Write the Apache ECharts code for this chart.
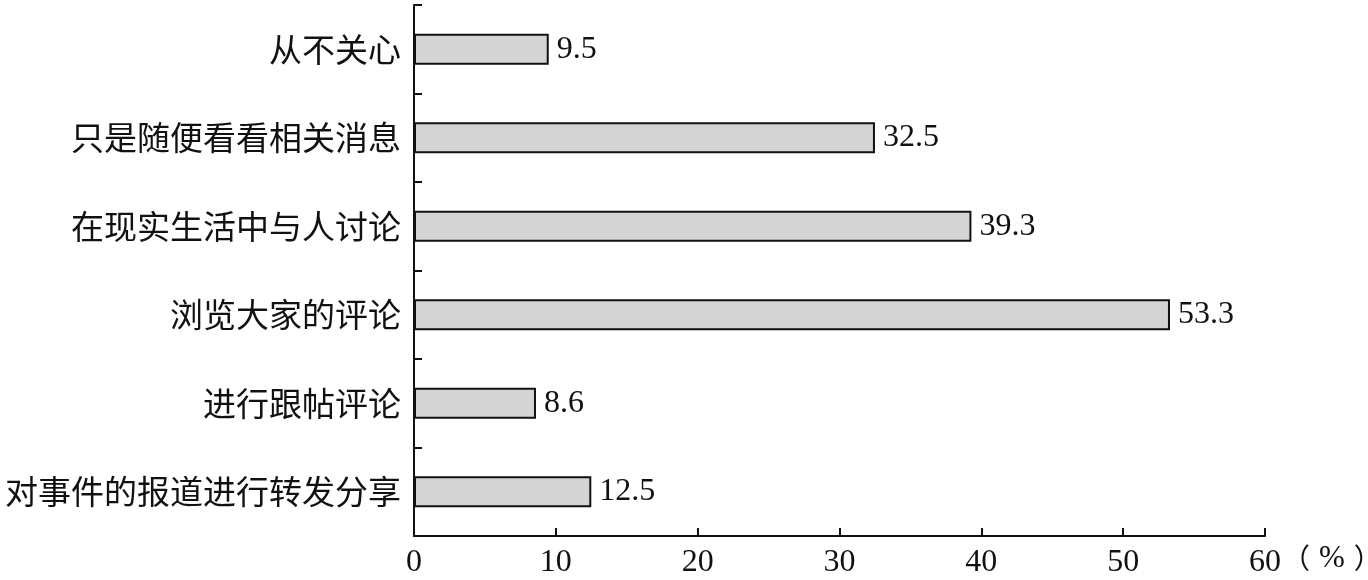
<!DOCTYPE html>
<html><head><meta charset="utf-8">
<script src="https://cdn.jsdelivr.net/npm/echarts@6/dist/echarts.min.js"></script>
<style>html,body{margin:0;padding:0;background:#fff}#c{width:1368px;height:580px}</style>
</head><body><div id="c"></div>
<script>
const categories = ['从不关心','只是随便看看相关消息','在现实生活中与人讨论','浏览大家的评论','进行跟帖评论','对事件的报道进行转发分享'];
const values = [9.5, 32.5, 39.3, 53.3, 8.6, 12.5];
const xTicks = [0, 10, 20, 30, 40, 50, 60];
const unitLabel = '{p|（}{s|%}{p|）}';

const chart = echarts.init(document.getElementById('c'));
chart.setOption({
  animation: false,
  grid: {left: 414, right: 103, top: 5, bottom: 44},
  xAxis: {
    type: 'value', min: xTicks[0], max: xTicks[xTicks.length-1], interval: 10,
    axisLine: {show: true, lineStyle: {color: '#111', width: 2}},
    axisTick: {show: true, inside: true, length: 8, lineStyle: {color: '#111', width: 2}},
    splitLine: {show: false},
    axisLabel: {margin: 11, color: '#111', fontSize: 32, fontFamily: 'Liberation Serif'}
  },
  yAxis: {
    type: 'category', data: categories, inverse: true,
    axisLine: {show: true, lineStyle: {color: '#111', width: 2}},
    axisTick: {show: true, inside: true, length: 8, alignWithLabel: false, lineStyle: {color: '#111', width: 2}},
    axisLabel: {margin: 13, color: '#111', fontSize: 33, fontFamily: 'Noto Sans CJK SC'}
  },
  graphic: [{
    type: 'text', left: 1282, top: 543,
    style: {
      text: unitLabel, fill: '#111',
      rich: {
        p: {fontSize: 28, fontFamily: 'Noto Sans CJK SC', fill: '#111'},
        s: {fontSize: 31, fontFamily: 'Liberation Serif', fill: '#111', padding: [0, 9, 0, 9]}
      }
    }
  }],
  series: [{
    type: 'bar', data: values, barWidth: 31,
    itemStyle: {color: '#d4d4d4', borderColor: '#111', borderWidth: 2},
    label: {show: true, position: 'right', distance: 8, color: '#111', fontSize: 32, fontFamily: 'Liberation Serif'}
  }]
});
</script></body></html>
